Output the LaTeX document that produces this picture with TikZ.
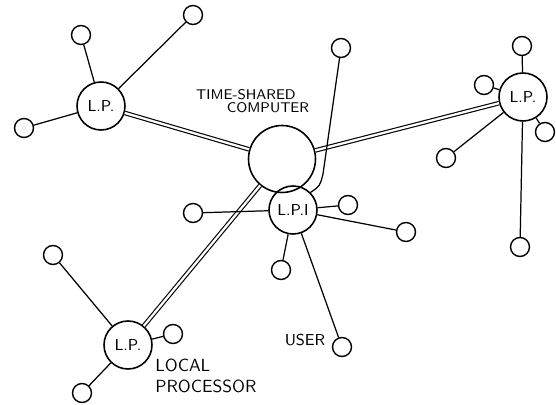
\documentclass[tikz,border=0pt]{standalone}
\usepackage{tikz}
\tikzset{
  lp/.style={circle, draw, line width=0.9pt, minimum size=0.96cm, inner sep=0pt, font=\sffamily\small},
  host/.style={circle, draw, line width=0.9pt, minimum size=1.34cm, inner sep=0pt},
  term/.style={circle, draw, line width=0.8pt, minimum size=0.38cm, inner sep=0pt},
  link/.style={double, double distance=1.3pt, line width=0.65pt},
  wire/.style={line width=0.7pt},
  lbl/.style={font=\sffamily, inner sep=0pt},
}

\begin{document}
\begin{tikzpicture}[x=0.02cm, y=-0.02cm]
    \useasboundingbox (0,0) rectangle (556,405);
    % processors
    \node[host] (tsc) at (282,159) {};
    \node[lp] (lpa) at (101,106) {L.P.};
    \node[lp] (lpb) at (523,97) {L.P.};
    \node[lp] (lpc) at (128,345) {L.P.};
    \node[lp] (lpi) at (293,210) {L.P.I};
    % terminals
    \node[term] (a1) at (81,35) {};
    \node[term] (a2) at (24,128) {};
    \node[term] (a3) at (193,15) {};
    \node[term] (b1) at (522,46) {};
    \node[term] (b2) at (484,85) {};
    \node[term] (b3) at (545,132) {};
    \node[term] (b4) at (446,158) {};
    \node[term] (b5) at (520,247) {};
    \node[term] (c1) at (53,255) {};
    \node[term] (c2) at (173,334) {};
    \node[term] (c3) at (82,393) {};
    \node[term] (i1) at (341,48) {};
    \node[term] (i2) at (348,205) {};
    \node[term] (i3) at (406,232) {};
    \node[term] (i4) at (281,270) {};
    \node[term] (i5) at (342,347) {};
    \node[term] (i6) at (193,213) {};
    % labels
    \node[lbl, font=\sffamily\footnotesize] (tsclbl) at (246,95) {TIME-SHARED};
    \node[lbl, font=\sffamily\footnotesize] (tsclbl2) at (268,108) {COMPUTER};
    \node[lbl, font=\sffamily\small] (userlbl) at (305,340) {USER};
    \node[lbl, anchor=west, align=left, font=\sffamily] (lplbl) at (155,376) {LOCAL\\PROCESSOR};
    % trunk lines
    \draw[link] (lpa) -- (tsc);
    \draw[link] (lpb) -- (tsc);
    \draw[link] (lpc) -- (tsc);
    % terminal lines
    \draw[wire] (lpa) -- (a1);
    \draw[wire] (lpa) -- (a2);
    \draw[wire] (lpa) -- (a3);
    \foreach \t in {b1,b2,b3,b4,b5} \draw[wire] (lpb) -- (\t);
    \foreach \t in {c1,c2,c3} \draw[wire] (lpc) -- (\t);
    \foreach \t in {i2,i3,i4,i5,i6} \draw[wire] (lpi) -- (\t);
    \draw[wire] (i1) -- (323,174) .. controls (320,186) .. (lpi.45);
\end{tikzpicture}
\end{document}
